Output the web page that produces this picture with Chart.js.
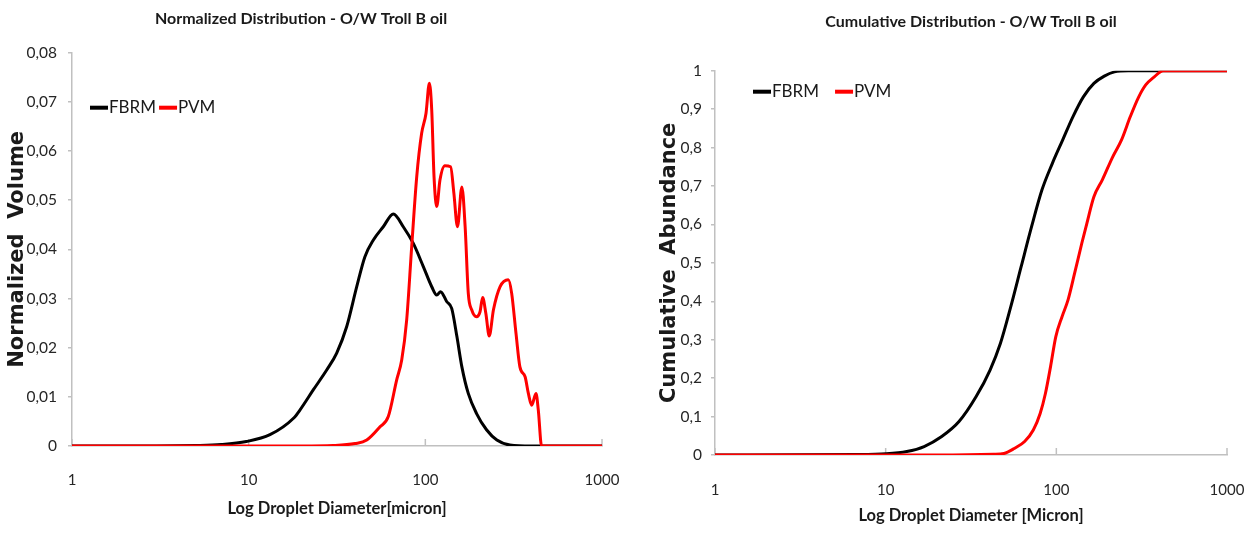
<!DOCTYPE html>
<html lang="en">
<head>
<meta charset="UTF-8">
<title>Droplet Size Distribution - O/W Troll B oil</title>
<script src="https://cdn.jsdelivr.net/npm/chart.js"></script>
<style>
  body { margin: 0; background: #fff; width: 1255px; height: 533px; overflow: hidden; position: relative; }
  .box { position: absolute; top: 0; height: 533px; }
  #left { left: 0; width: 620px; }
  #right { left: 630px; width: 625px; }
</style>
</head>
<body>
<div class="box" id="left"><canvas id="normChart"></canvas></div>
<div class="box" id="right"><canvas id="cumChart"></canvas></div>
<script>
const xTicks = [1, 10, 100, 1000];

// normalized volume distribution (diameter in micron, volume fraction)
const fbrmNormD = [1, 3, 5, 7, 9.7, 13.2, 18, 19.5, 23.2, 27.7, 31.5, 35.9, 40.9, 45.5, 50.8, 57.8, 65.9, 75, 85.5, 97.4, 108.7, 116, 122, 132, 141, 151, 161, 175, 195, 222, 254, 301, 400, 1000];
const fbrmNormV = [0, 0, 0.0001, 0.0003, 0.0009, 0.0023, 0.0057, 0.0073, 0.0114, 0.0155, 0.0189, 0.0243, 0.0324, 0.0385, 0.0419, 0.0446, 0.0472, 0.0446, 0.0412, 0.0365, 0.0324, 0.0307, 0.0314, 0.0294, 0.028, 0.0222, 0.0161, 0.0107, 0.0066, 0.0033, 0.0012, 0.0002, 0, 0];

const pvmNormD = [1, 10, 20, 30, 40, 46.6, 55.4, 61.7, 68.8, 73.5, 78.4, 83.7, 89.4, 95.3, 100.9, 105.4, 108.7, 112, 116, 121, 129, 139, 145, 152, 161, 168, 175, 183, 195, 204, 211, 220, 230, 243, 265, 295, 308, 326, 343, 367, 383, 400, 423, 436, 455, 1000];
const pvmNormV = [0, 0, 0, 0.0001, 0.0005, 0.0012, 0.0039, 0.006, 0.0134, 0.0175, 0.0256, 0.0405, 0.0548, 0.0636, 0.0677, 0.0738, 0.0683, 0.0548, 0.0487, 0.0541, 0.057, 0.0568, 0.0515, 0.0446, 0.0527, 0.0446, 0.0311, 0.0277, 0.0263, 0.0273, 0.0302, 0.027, 0.0224, 0.0277, 0.0324, 0.0338, 0.0311, 0.0229, 0.0161, 0.0141, 0.0107, 0.0083, 0.0107, 0.0073, 0, 0];

// cumulative abundance
const fbrmCumD = [1, 6.6, 10.1, 13.3, 16.8, 21.3, 26.9, 33.9, 40.9, 47, 54.1, 62.2, 71.6, 82.4, 94.8, 109, 125, 144, 166, 191, 219, 264, 400, 1000];
const fbrmCumV = [0, 0.001, 0.003, 0.009, 0.022, 0.048, 0.087, 0.152, 0.221, 0.29, 0.386, 0.49, 0.594, 0.69, 0.759, 0.82, 0.88, 0.932, 0.967, 0.986, 0.997, 1, 1, 1];

const pvmCumD = [1, 20, 42.9, 49.3, 56.7, 65.2, 73.3, 80.4, 86.3, 92.5, 99.3, 108, 117, 128, 141, 151, 166, 186, 214, 241, 271, 304, 334, 375, 422, 1000];
const pvmCumV = [0, 0, 0.002, 0.004, 0.017, 0.035, 0.065, 0.108, 0.16, 0.23, 0.308, 0.36, 0.403, 0.473, 0.551, 0.603, 0.672, 0.716, 0.776, 0.82, 0.88, 0.932, 0.963, 0.984, 1, 1];

// Lato is the base of Carlito, closest thing to Calibri here
const narrow = "Lato, 'Liberation Sans', sans-serif";
const wide = "'DejaVu Sans', Verdana, sans-serif";
const axisGray = '#c0c0c0';

function points(d, v) {
    return d.map((x, i) => ({ x: x, y: v[i] }));
}

function commaLabel(v) {
    if (v === 0) return '0';
    return String(Math.round(v * 100) / 100).replace('.', ',');
}

// small tick marks pointing up into the plot, like the original
const insideTicks = {
    id: 'insideTicks',
    beforeDatasetsDraw(chart) {
        const { ctx, chartArea, scales } = chart;
        ctx.save();
        ctx.strokeStyle = axisGray;
        ctx.lineWidth = 1.5;
        scales.x.ticks.forEach(t => {
            const px = scales.x.getPixelForValue(t.value);
            ctx.beginPath();
            ctx.moveTo(px, chartArea.bottom);
            ctx.lineTo(px, chartArea.bottom - 7);
            ctx.stroke();
        });
        ctx.restore();
    }
};

// legend drawn inside the plot area
const lineLegend = {
    id: 'lineLegend',
    afterDatasetsDraw(chart, args, opts) {
        const { ctx, chartArea } = chart;
        let x = chartArea.left + opts.dx;
        const y = chartArea.top + opts.dy;
        ctx.save();
        ctx.font = '17px ' + narrow;
        ctx.textBaseline = 'middle';
        chart.data.datasets.forEach(ds => {
            ctx.strokeStyle = ds.borderColor;
            ctx.lineWidth = 4;
            ctx.beginPath();
            ctx.moveTo(x, y);
            ctx.lineTo(x + 18, y);
            ctx.stroke();
            ctx.fillStyle = '#1a1a1a';
            ctx.fillText(ds.label, x + 19, y);
            x += 19 + ctx.measureText(ds.label).width + opts.gap;
        });
        ctx.restore();
    }
};

function makeChart(id, s) {
    return new Chart(document.getElementById(id), {
        type: 'line',
        data: {
            datasets: [
                { label: 'FBRM', data: points(s.fbrmD, s.fbrmV), borderColor: '#000000', order: 1 },
                { label: 'PVM', data: points(s.pvmD, s.pvmV), borderColor: '#ff0000', order: 0 }
            ]
        },
        options: {
            animation: false,
            responsive: true,
            maintainAspectRatio: false,
            elements: {
                line: { borderWidth: 3, cubicInterpolationMode: 'monotone', fill: false },
                point: { radius: 0, hoverRadius: 0 }
            },
            layout: { padding: { left: 0, right: s.padRight, top: 0, bottom: 0 } },
            plugins: {
                legend: { display: false },
                tooltip: { enabled: false },
                title: {
                    display: true,
                    text: s.title,
                    fullSize: s.titleFull,
                    color: '#1a1a1a',
                    font: { family: narrow, size: 16, weight: 'bold', lineHeight: 1.2 },
                    padding: { top: s.titleTop, bottom: s.titleBottom }
                },
                lineLegend: { dx: s.legendDx, dy: s.legendDy, gap: s.legendGap }
            },
            scales: {
                x: {
                    type: 'logarithmic',
                    min: 1,
                    max: 1000,
                    afterBuildTicks: scale => { scale.ticks = xTicks.map(v => ({ value: v })); },
                    afterFit: scale => {
                        scale.height = s.xHeight;
                        scale.paddingLeft = 0;
                        scale.paddingRight = 0;
                    },
                    border: { color: axisGray, width: 1.5 },
                    grid: { display: true, drawOnChartArea: false, drawTicks: false },
                    ticks: {
                        autoSkip: false,
                        maxRotation: 0,
                        padding: s.xTickPad,
                        color: '#262626',
                        font: { family: narrow, size: 15 },
                        callback: v => String(v)
                    },
                    title: {
                        display: true,
                        text: s.xTitle,
                        color: '#1a1a1a',
                        font: { family: narrow, size: 16.5, weight: 'bold', lineHeight: 1.2 },
                        padding: { top: 0, bottom: s.xTitleBottom }
                    }
                },
                y: {
                    min: 0,
                    max: s.yMax,
                    afterFit: scale => {
                        scale.width = s.yWidth;
                        scale.paddingTop = 0;
                        scale.paddingBottom = 0;
                    },
                    border: { color: axisGray, width: 1.5 },
                    grid: { drawOnChartArea: false, drawTicks: true, tickLength: 4, color: axisGray, lineWidth: 1.5 },
                    ticks: {
                        stepSize: s.yStep,
                        padding: s.yTickPad,
                        color: '#262626',
                        font: { family: narrow, size: 15.5 },
                        callback: commaLabel
                    },
                    title: {
                        display: true,
                        text: s.yTitle,
                        color: '#1a1a1a',
                        font: { family: wide, size: 21, weight: 'bold', lineHeight: 1.2 },
                        padding: { top: s.yTitleTop, bottom: 0 }
                    }
                }
            }
        },
        plugins: [insideTicks, lineLegend]
    });
}

makeChart('normChart', {
    title: 'Normalized Distribution - O/W Troll B oil',
    titleFull: true, titleTop: 9.1, titleBottom: 24.4,
    xTitle: 'Log Droplet Diameter[micron]',
    yTitle: 'Normalized  Volume',
    fbrmD: fbrmNormD, fbrmV: fbrmNormV, pvmD: pvmNormD, pvmV: pvmNormV,
    yMax: 0.08, yStep: 0.01,
    padRight: 18, yWidth: 72, xHeight: 87,
    xTickPad: 25, xTitleBottom: 14.1, yTickPad: 11, yTitleTop: 5.4,
    legendDx: 18, legendDy: 55, legendGap: 3
});

makeChart('cumChart', {
    title: 'Cumulative Distribution - O/W Troll B oil',
    titleFull: false, titleTop: 12.4, titleBottom: 39.1,
    xTitle: 'Log Droplet Diameter [Micron]',
    yTitle: 'Cumulative  Abundance',
    fbrmD: fbrmCumD, fbrmV: fbrmCumV, pvmD: pvmCumD, pvmV: pvmCumV,
    yMax: 1, yStep: 0.1,
    padRight: 28, yWidth: 85, xHeight: 78,
    xTickPad: 26, xTitleBottom: 7.1, yTickPad: 9, yTitleTop: 26.9,
    legendDx: 38, legendDy: 21, legendGap: 16
});
</script>
</body>
</html>
